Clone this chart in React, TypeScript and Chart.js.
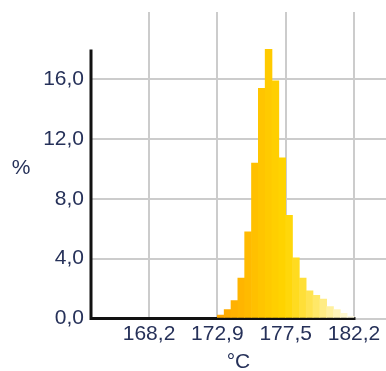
import React, { useEffect, useRef } from "react";
import { Chart, registerables } from "chart.js";

Chart.register(...registerables);

// Bin centres (°C), each bin 0.465 °C wide, starting at 172.85
const binCenters = [
  173.0825, 173.5475, 174.0125, 174.4775, 174.9425, 175.4075, 175.8725, 176.3375, 176.8025, 177.2675,
  177.7325, 178.1975, 178.6625, 179.1275, 179.5925, 180.0575, 180.5225, 180.9875, 181.4525, 181.9175,
];
// Percentage per bin
const percentValues = [
  0.23, 0.6, 1.2, 2.7, 5.8, 10.4, 15.4, 18.0, 15.9, 10.75,
  6.9, 4.05, 2.7, 1.85, 1.55, 1.3, 0.8, 0.6, 0.35, 0.15,
];
const barColors = [
  "#FFA800", "#FFAC00", "#FFB100", "#FFB500", "#FFBA00", "#FFC000", "#FFC500", "#FFCA00", "#FFCF00", "#FFD300",
  "#FFD70A", "#FFDB20", "#FFDF38", "#FFE350", "#FFE868", "#FFEC84", "#FFF09E", "#FFF4B8", "#FFF8D0", "#FFFBE4",
];
const xTickValues = [168.2, 172.85, 177.5, 182.15];
const xTickLabels = ["168,2", "172,9", "177,5", "182,2"];
const yTickValues = [0, 4, 8, 12, 16];
const yTickLabels = ["0,0", "4,0", "8,0", "12,0", "16,0"];
const xTitle = "°C";
const yTitle = "%";
const xMin = 164.25;
const xMax = 184.33;
const yMin = 0;
const yMax = 20.5;
const axisTopValue = 18;

const TEXT_COLOR = "#263159";
const GRID_COLOR = "#cccccc";
const FONT_FAMILY = "'Liberation Sans', Arial, sans-serif";
const FONT_SIZE = 21;

const customAxes = {
  id: "customAxes",
  beforeDatasetsDraw(chart: any) {
    const { ctx, chartArea, scales } = chart;
    const x = scales.x;
    const y = scales.y;
    const x0 = chartArea.left;
    const y0 = y.getPixelForValue(0);
    ctx.save();
    ctx.strokeStyle = "#111111";
    ctx.lineWidth = 3;
    ctx.lineJoin = "miter";
    ctx.beginPath();
    ctx.moveTo(x0, y.getPixelForValue(axisTopValue));
    ctx.lineTo(x0, y0);
    ctx.lineTo(x.getPixelForValue(xTickValues[xTickValues.length - 1]) + 1.5, y0);
    ctx.stroke();
    ctx.restore();
  },
  afterDraw(chart: any) {
    const { ctx, chartArea } = chart;
    ctx.save();
    ctx.fillStyle = TEXT_COLOR;
    ctx.font = `${FONT_SIZE}px ${FONT_FAMILY}`;
    ctx.textAlign = "center";
    ctx.textBaseline = "middle";
    ctx.fillText(yTitle, 21, 168);
    ctx.fillText(xTitle, (chartArea.left + chartArea.right) / 2, 362);
    ctx.restore();
  },
};

export default function App() {
  const canvasRef = useRef<HTMLCanvasElement | null>(null);

  useEffect(() => {
    const canvas = canvasRef.current;
    if (!canvas) return;
    const chart = new Chart(canvas, {
      type: "bar",
      data: {
        datasets: [
          {
            data: binCenters.map((c, i) => ({ x: c, y: percentValues[i] })),
            backgroundColor: barColors,
            borderWidth: 0,
            barPercentage: 1,
            categoryPercentage: 1,
          },
        ],
      },
      options: {
        responsive: false,
        animation: false,
        devicePixelRatio: 1,
        layout: { padding: { top: 12, left: 0, right: 0, bottom: 0 } },
        plugins: {
          legend: { display: false },
          tooltip: { enabled: false },
          title: { display: false },
        },
        scales: {
          x: {
            type: "linear",
            min: xMin,
            max: xMax,
            offset: false,
            afterBuildTicks: (s: any) => {
              s.ticks = xTickValues.map((v) => ({ value: v }));
            },
            afterFit: (s: any) => {
              s.height = 52.5;
              s.paddingLeft = 0;
              s.paddingRight = 0;
            },
            grid: { offset: false, color: GRID_COLOR, lineWidth: 2, drawTicks: false },
            border: { display: false },
            ticks: {
              autoSkip: false,
              maxRotation: 0,
              minRotation: 0,
              padding: 3,
              color: TEXT_COLOR,
              font: { family: FONT_FAMILY, size: FONT_SIZE },
              callback: (_v: any, i: number) => xTickLabels[i],
            },
          },
          y: {
            type: "linear",
            min: yMin,
            max: yMax,
            afterBuildTicks: (s: any) => {
              s.ticks = yTickValues.map((v) => ({ value: v }));
            },
            afterFit: (s: any) => {
              s.width = 91;
              s.paddingTop = 0;
              s.paddingBottom = 0;
            },
            grid: { color: GRID_COLOR, lineWidth: 2, drawTicks: false },
            border: { display: false },
            ticks: {
              padding: 7,
              color: TEXT_COLOR,
              font: { family: FONT_FAMILY, size: FONT_SIZE },
              callback: (_v: any, i: number) => yTickLabels[i],
            },
          },
        },
      },
      plugins: [customAxes],
    });
    return () => chart.destroy();
  }, []);

  return (
    <div style={{ position: "fixed", left: 0, top: 0, width: 386, height: 371, background: "#ffffff" }}>
      <canvas ref={canvasRef} width={386} height={371} style={{ display: "block" }} />
    </div>
  );
}
